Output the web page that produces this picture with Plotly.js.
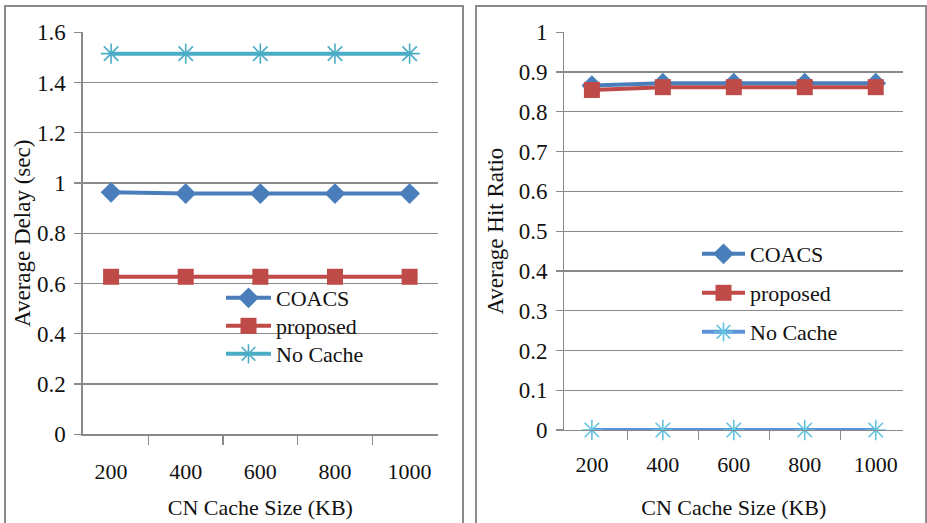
<!DOCTYPE html>
<html>
<head>
<meta charset="utf-8">
<script src="https://cdn.plot.ly/plotly-3.0.1.min.js"></script>
<style>html,body{margin:0;padding:0;background:#fff}#chart{width:927px;height:523px}</style>
</head>
<body>
<div id="chart"></div>
<script>
// Shared categories
const cacheSizes = ['200', '400', '600', '800', '1000'];
const seriesNames = ['COACS', 'proposed', 'No Cache'];

// Left panel: Average Delay (sec)
const delayCOACS = [0.963, 0.958, 0.958, 0.958, 0.958];
const delayProposed = [0.627, 0.627, 0.627, 0.627, 0.627];
const delayNoCache = [1.515, 1.515, 1.515, 1.515, 1.515];
const delayTicks = [0, 0.2, 0.4, 0.6, 0.8, 1, 1.2, 1.4, 1.6];

// Right panel: Average Hit Ratio
const hitCOACS = [0.866, 0.872, 0.872, 0.872, 0.872];
const hitProposed = [0.855, 0.862, 0.862, 0.862, 0.862];
const hitNoCache = [0, 0, 0, 0, 0];
const hitTicks = [0, 0.1, 0.2, 0.3, 0.4, 0.5, 0.6, 0.7, 0.8, 0.9, 1];

const FONT = "'Liberation Serif', 'Times New Roman', Times, serif";
const BLUE = '#4a7ebb', RED = '#be4b48', CYAN = '#4bacc6', LBLUE = '#5b92d8', LCYAN = '#62c3e0';

function tr(y, name, xa, ya, leg, lineColor, markerColor, symbol, size) {
  return {
    type: 'scatter', mode: 'lines+markers', x: cacheSizes, y: y, name: name,
    xaxis: xa, yaxis: ya, legend: leg,
    line: {color: lineColor, width: 4},
    marker: {symbol: symbol, size: size, color: markerColor,
             line: {color: markerColor, width: symbol.indexOf('open') >= 0 ? 1.6 : 0}},
    cliponaxis: false
  };
}

const data = [
  tr(delayCOACS, seriesNames[0], 'x', 'y', 'legend', BLUE, BLUE, 'diamond', 16),
  tr(delayProposed, seriesNames[1], 'x', 'y', 'legend2', RED, RED, 'square', 16),
  tr(delayNoCache, seriesNames[2], 'x', 'y', 'legend3', CYAN, CYAN, 'asterisk-open', 17),
  tr(hitCOACS, seriesNames[0], 'x2', 'y2', 'legend4', BLUE, BLUE, 'diamond', 16),
  tr(hitProposed, seriesNames[1], 'x2', 'y2', 'legend5', RED, RED, 'square', 16),
  tr(hitNoCache, seriesNames[2], 'x2', 'y2', 'legend6', LBLUE, LCYAN, 'asterisk-open', 17)
];

const W = 927, H = 523;
const px = v => v / W, py = v => (H - v) / H;
const GRID = '#8a8a8a';
const TXT = '#111111';

function xaxis(d, anchor, standoff, titleStandoff) {
  return {
    domain: d, anchor: anchor, type: 'category', tickson: 'boundaries',
    ticks: 'outside', ticklen: 9, tickcolor: GRID, tickwidth: 1.3,
    showline: true, linecolor: GRID, linewidth: 1.3, showgrid: false, zeroline: false,
    tickfont: {family: FONT, size: 22, color: TXT}, ticklabelstandoff: standoff,
    title: {text: 'CN Cache Size (KB)', font: {family: FONT, size: 22, color: TXT}, standoff: titleStandoff},
    fixedrange: true
  };
}
function yaxis(d, anchor, range, ticks, title, titleStandoff) {
  return {
    domain: d, anchor: anchor, range: range, tickvals: ticks,
    ticks: 'outside', ticklen: 7, tickcolor: GRID, tickwidth: 1.3,
    showline: true, linecolor: GRID, linewidth: 1.3,
    showgrid: true, gridcolor: GRID, gridwidth: 1.3, zeroline: false,
    tickfont: {family: FONT, size: 23, color: TXT}, ticklabelstandoff: 4,
    title: {text: title, font: {family: FONT, size: 23, color: TXT}, standoff: titleStandoff},
    fixedrange: true
  };
}
function leg(xPix, topPix, iw) {
  return {
    x: px(xPix), y: py(topPix), xanchor: 'left', yanchor: 'top',
    bgcolor: 'rgba(0,0,0,0)', font: {family: FONT, size: 22, color: TXT},
    itemwidth: iw, itemclick: false, itemdoubleclick: false
  };
}

const layout = {
  width: W, height: H,
  margin: {l: 0, r: 0, t: 0, b: 0},
  paper_bgcolor: '#fff', plot_bgcolor: 'rgba(0,0,0,0)',
  showlegend: true,
  xaxis: xaxis([px(82.7), px(438)], 'y', 17, 16),
  yaxis: yaxis([py(434.3), py(32.3)], 'x', [0, 1.6], delayTicks, 'Average Delay (sec)', 0),
  xaxis2: xaxis([px(564.3), px(903.3)], 'y2', 14, 24),
  yaxis2: yaxis([py(430), py(32.3)], 'x2', [0, 1], hitTicks, 'Average Hit Ratio', 8),
  legend: leg(221, 277, 45),
  legend2: leg(221, 305, 45),
  legend3: leg(221, 333, 45),
  legend4: leg(697, 233, 43),
  legend5: leg(697, 272, 43),
  legend6: leg(697, 311, 43),
  shapes: [
    {type: 'rect', xref: 'paper', yref: 'paper', x0: px(5), x1: px(463), y0: -0.02, y1: py(6),
     line: {color: '#8c8c8c', width: 2}, layer: 'below'},
    {type: 'rect', xref: 'paper', yref: 'paper', x0: px(476), x1: px(926), y0: -0.02, y1: py(6),
     line: {color: '#8c8c8c', width: 2}, layer: 'below'}
  ]
};

Plotly.newPlot('chart', data, layout, {staticPlot: true, displayModeBar: false});
</script>
</body>
</html>
